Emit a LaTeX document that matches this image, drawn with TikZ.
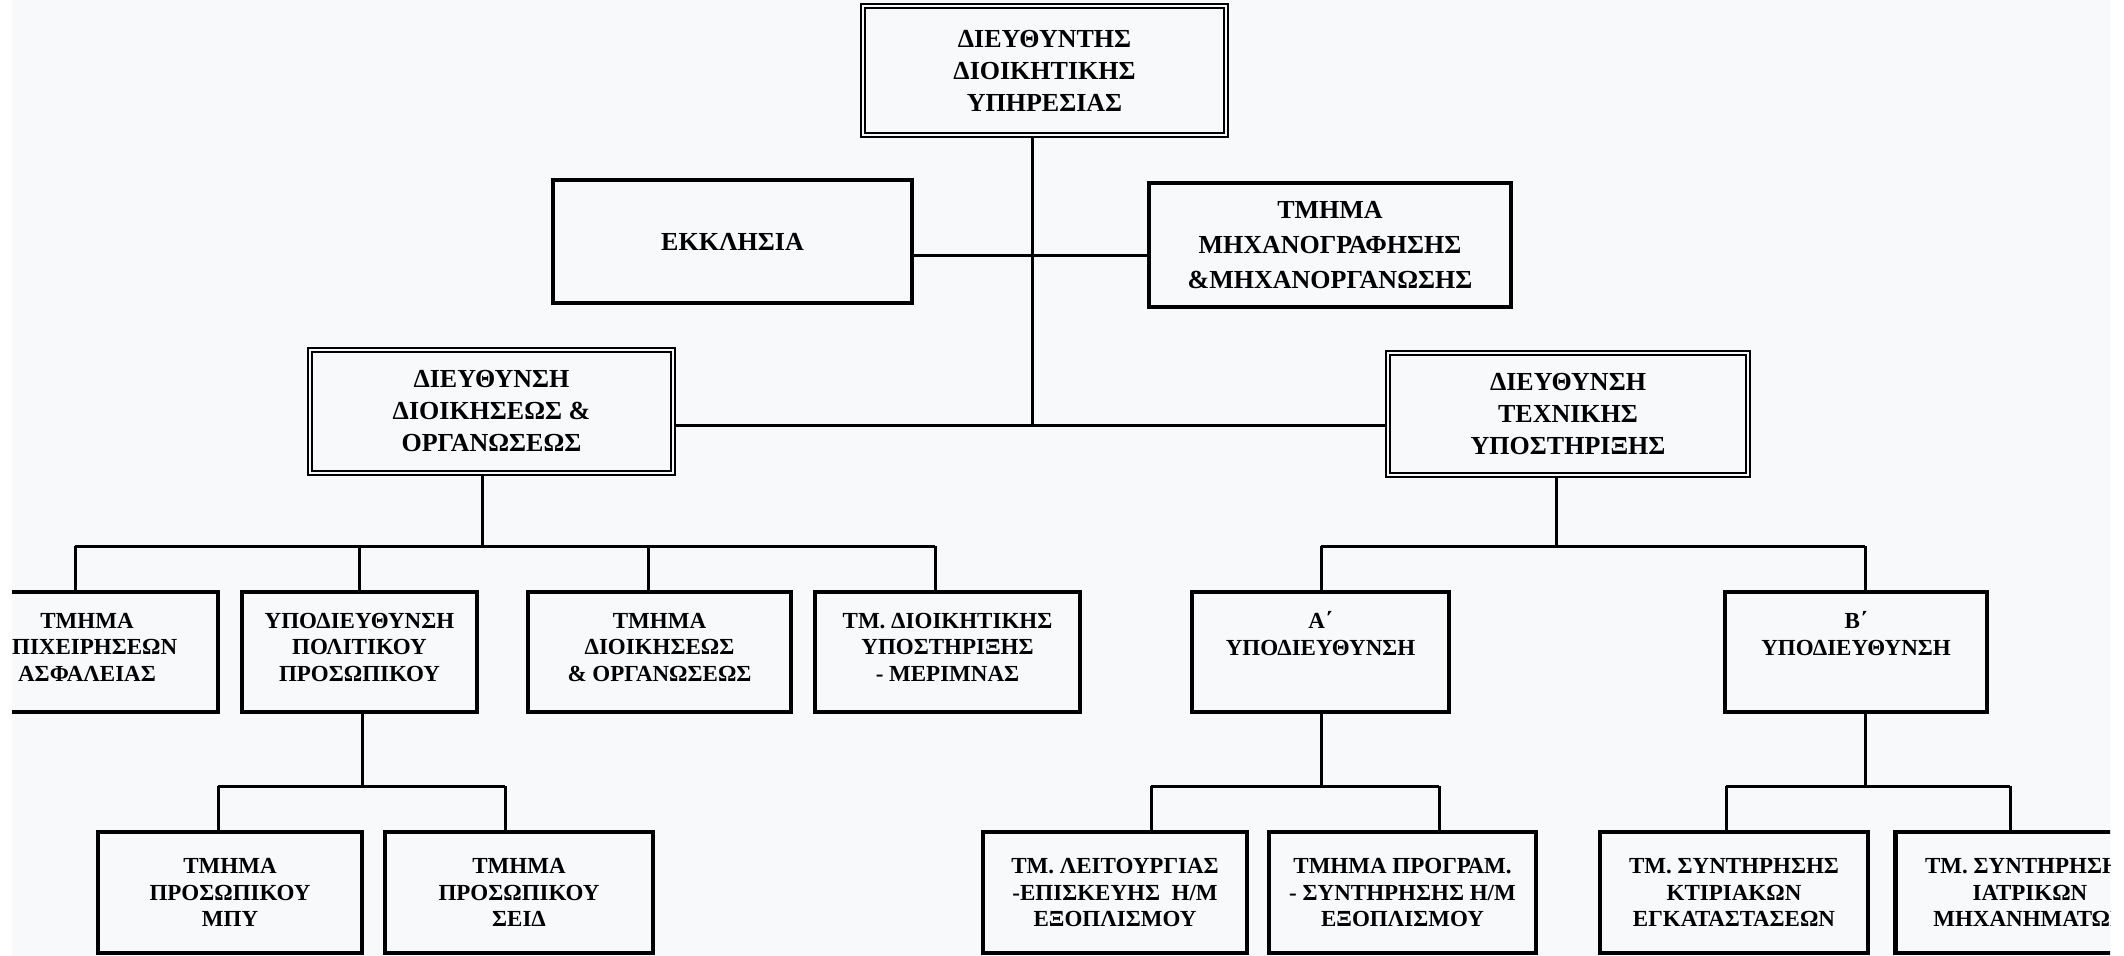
\documentclass[tikz,border=0pt]{standalone}
\usepackage{fontspec}
\setmainfont{Liberation Serif}
\definecolor{paper}{RGB}{247,249,251}
\begin{document}
\begin{tikzpicture}[x=0.5pt,y=-0.5pt,
  bigtext/.style={font=\bfseries\fontsize{13}{16}\selectfont},
  smalltext/.style={font=\bfseries\fontsize{11.5}{13.3}\selectfont},
  box/.style={draw=black, line width=2.2pt, align=center, inner sep=0pt, fill=paper},
  dbox/.style={draw=black, double=paper, line width=1.1pt, double distance=1.1pt, align=center, inner sep=0pt, fill=paper},
  conn/.style={draw=black, line width=1.5pt}]
\useasboundingbox (0,0) rectangle (2124,956);
\fill[white] (0,0) rectangle (2124,956);
\begin{scope}
\clip (12,0) rectangle (2110,956);
\fill[paper] (12,0) rectangle (2110,956);

% connector junctions
\coordinate (t0) at (1032,256);
\coordinate (t1) at (1032,426);
\coordinate (lb) at (482,546);
\coordinate (l1) at (75,546);
\coordinate (l3) at (648,546);
\coordinate (l4) at (935,546);
\coordinate (rb) at (1556,546);
\coordinate (r1) at (1321,546);
\coordinate (r2) at (1865,546);
\coordinate (p0) at (362,786);
\coordinate (p1) at (218,786);
\coordinate (p2) at (505,786);
\coordinate (q0) at (1321,786);
\coordinate (q1) at (1151,786);
\coordinate (q2) at (1439,786);
\coordinate (s0) at (1865,786);
\coordinate (s1) at (1726,786);
\coordinate (s2) at (2010,786);

% top level
\node[dbox, bigtext, minimum width=181.5pt, minimum height=64.5pt] (top) at (1044.5,70.5)
  {ΔΙΕΥΘΥΝΤΗΣ\\ΔΙΟΙΚΗΤΙΚΗΣ\\ΥΠΗΡΕΣΙΑΣ};
\node[box, bigtext, minimum width=179.5pt, minimum height=61.5pt] (ekk) at (732.5,241.5)
  {ΕΚΚΛΗΣΙΑ};
\node[box, font=\bfseries\fontsize{13}{17.5}\selectfont, minimum width=181pt, minimum height=62pt] (mix) at (1330,245)
  {ΤΜΗΜΑ\\ΜΗΧΑΝΟΓΡΑΦΗΣΗΣ\\\&ΜΗΧΑΝΟΡΓΑΝΩΣΗΣ};
\node[dbox, bigtext, minimum width=181.5pt, minimum height=61.5pt] (dA) at (491.5,411.5)
  {ΔΙΕΥΘΥΝΣΗ\\ΔΙΟΙΚΗΣΕΩΣ \&\\ΟΡΓΑΝΩΣΕΩΣ};
\node[dbox, bigtext, minimum width=180pt, minimum height=61pt] (dT) at (1568,414)
  {ΔΙΕΥΘΥΝΣΗ\\ΤΕΧΝΙΚΗΣ\\ΥΠΟΣΤΗΡΙΞΗΣ};

% tier 3
\node[box, smalltext, minimum width=131pt, minimum height=60pt] (b1) at (87,652)
  {ΤΜΗΜΑ\\ΕΠΙΧΕΙΡΗΣΕΩΝ\\ΑΣΦΑΛΕΙΑΣ\\[-8.5pt]~};
\node[box, smalltext, minimum width=117.5pt, minimum height=60pt] (b2) at (359.5,652)
  {ΥΠΟΔΙΕΥΘΥΝΣΗ\\ΠΟΛΙΤΙΚΟΥ\\ΠΡΟΣΩΠΙΚΟΥ\\[-8.5pt]~};
\node[box, smalltext, minimum width=131.5pt, minimum height=60pt] (b3) at (659.5,652)
  {ΤΜΗΜΑ\\ΔΙΟΙΚΗΣΕΩΣ\\\& ΟΡΓΑΝΩΣΕΩΣ\\[-8.5pt]~};
\node[box, smalltext, minimum width=132.5pt, minimum height=60pt] (b4) at (947.5,652)
  {ΤΜ. ΔΙΟΙΚΗΤΙΚΗΣ\\ΥΠΟΣΤΗΡΙΞΗΣ\\- ΜΕΡΙΜΝΑΣ\\[-8.5pt]~};
\node[box, smalltext, minimum width=128.5pt, minimum height=60pt] (bA) at (1320.5,652)
  {Α΄\\ΥΠΟΔΙΕΥΘΥΝΣΗ\\[5pt]~};
\node[box, smalltext, minimum width=131pt, minimum height=60pt] (bB) at (1856,652)
  {Β΄\\ΥΠΟΔΙΕΥΘΥΝΣΗ\\[5pt]~};

% tier 4
\node[box, smalltext, minimum width=132pt, minimum height=60.5pt] (c1) at (230,892.5)
  {ΤΜΗΜΑ\\ΠΡΟΣΩΠΙΚΟΥ\\ΜΠΥ};
\node[box, smalltext, minimum width=134pt, minimum height=60.5pt] (c2) at (519,892.5)
  {ΤΜΗΜΑ\\ΠΡΟΣΩΠΙΚΟΥ\\ΣΕΙΔ};
\node[box, smalltext, minimum width=132pt, minimum height=60.5pt] (c3) at (1115,892.5)
  {ΤΜ. ΛΕΙΤΟΥΡΓΙΑΣ\\-ΕΠΙΣΚΕΥΗΣ\ \ Η/Μ\\ΕΞΟΠΛΙΣΜΟΥ};
\node[box, smalltext, minimum width=133.5pt, minimum height=60.5pt] (c4) at (1402.5,892.5)
  {ΤΜΗΜΑ ΠΡΟΓΡΑΜ.\\- ΣΥΝΤΗΡΗΣΗΣ Η/Μ\\ΕΞΟΠΛΙΣΜΟΥ};
\node[box, smalltext, minimum width=134pt, minimum height=60.5pt] (c5) at (1734,892.5)
  {ΤΜ. ΣΥΝΤΗΡΗΣΗΣ\\ΚΤΙΡΙΑΚΩΝ\\ΕΓΚΑΤΑΣΤΑΣΕΩΝ};
\node[box, smalltext, minimum width=134.5pt, minimum height=60.5pt] (c6) at (2030,892.5)
  {ΤΜ. ΣΥΝΤΗΡΗΣΗΣ\\ΙΑΤΡΙΚΩΝ\\ΜΗΧΑΝΗΜΑΤΩΝ};

% connectors
\draw[conn] (top.south -| t1) -- (t1);
\draw[conn] (ekk.east |- t0) -- (mix.west |- t0);
\draw[conn] (dA.east |- t1) -- (dT.west |- t1);
\draw[conn] (dA.south -| lb) -- (lb);
\draw[conn] (l1) -- (l4);
\draw[conn] (l1) -- (l1 |- b1.north);
\draw[conn] (b2.north |- lb) -- (b2.north);
\draw[conn] (l3) -- (l3 |- b3.north);
\draw[conn] (l4) -- (l4 |- b4.north);
\draw[conn] (dT.south -| rb) -- (rb);
\draw[conn] (r1) -- (r2);
\draw[conn] (r1) -- (r1 |- bA.north);
\draw[conn] (r2) -- (r2 |- bB.north);
\draw[conn] (b2.south -| p0) -- (p0);
\draw[conn] (p1) -- (p2);
\draw[conn] (p1) -- (p1 |- c1.north);
\draw[conn] (p2) -- (p2 |- c2.north);
\draw[conn] (bA.south -| q0) -- (q0);
\draw[conn] (q1) -- (q2);
\draw[conn] (q1) -- (q1 |- c3.north);
\draw[conn] (q2) -- (q2 |- c4.north);
\draw[conn] (bB.south -| s0) -- (s0);
\draw[conn] (s1) -- (s2);
\draw[conn] (s1) -- (s1 |- c5.north);
\draw[conn] (s2) -- (s2 |- c6.north);
\end{scope}
\end{tikzpicture}
\end{document}
